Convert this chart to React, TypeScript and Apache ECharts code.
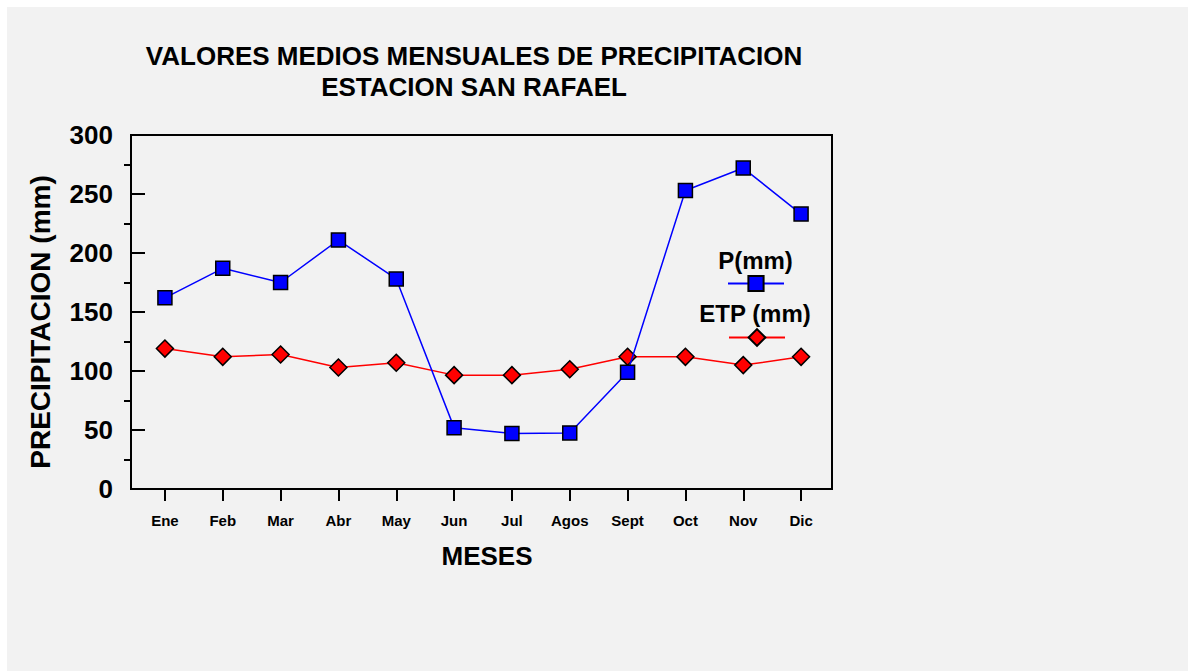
import React, { useEffect, useRef } from "react";
import * as echarts from "echarts";

const months = ["Ene", "Feb", "Mar", "Abr", "May", "Jun", "Jul", "Agos", "Sept", "Oct", "Nov", "Dic"];
const pValues = [162, 187, 175, 211, 178, 52, 47, 47.5, 99, 253, 272, 233];
const etpValues = [119, 112, 114, 103, 107, 96.5, 96.5, 101.5, 112, 112, 105, 112];
const minorTickCats = ["0", "25", "50", "75", "100", "125", "150", "175", "200", "225", "250", "275", "300"];
const titleLines = ["VALORES MEDIOS MENSUALES DE PRECIPITACION", "ESTACION SAN RAFAEL"];
const seriesNames = ["P(mm)", "ETP (mm)"];

const FONT = "'Liberation Sans', Arial, Helvetica, sans-serif";

export default function App() {
  const ref = useRef<HTMLDivElement>(null);
  useEffect(() => {
    if (!ref.current) return;
    const chart = echarts.init(ref.current, null, { renderer: "svg" });
    chart.setOption({
      animation: false,
      backgroundColor: "#f2f2f2",
      textStyle: { fontFamily: FONT, color: "#000" },
      title: {
        text: titleLines.join("\n"),
        left: 462,
        top: 28,
        textAlign: "center",
        textStyle: { fontSize: 26, fontWeight: "bold", color: "#000", lineHeight: 31, fontFamily: FONT },
      },
      grid: { left: 129, top: 128, width: 694, height: 354 },
      xAxis: {
        type: "category",
        data: months,
        boundaryGap: true,
        axisLine: { show: false },
        axisTick: { show: true, inside: false, length: 12, alignWithLabel: true, lineStyle: { color: "#000", width: 2 } },
        axisLabel: { fontSize: 15, fontWeight: "bold", color: "#000", margin: 24, fontFamily: FONT },
        splitLine: { show: false },
      },
      yAxis: [
        {
          type: "value",
          min: 0,
          max: 300,
          interval: 50,
          offset: 5,
          axisLine: { show: false },
          axisTick: { show: true, inside: true, length: 14, lineStyle: { color: "#000", width: 2 } },
          axisLabel: { fontSize: 26, fontWeight: "bold", color: "#000", margin: 18, fontFamily: FONT },
          splitLine: { show: false },
        },
        {
          type: "category",
          data: minorTickCats,
          boundaryGap: false,
          position: "left",
          offset: 5,
          axisLine: { show: false },
          axisTick: {
            show: true,
            inside: false,
            length: 7,
            interval: (i: number) => i % 2 === 1,
            lineStyle: { color: "#000", width: 2 },
          },
          axisLabel: { show: false },
          splitLine: { show: false },
        },
      ],
      legend: [
        {
          data: [seriesNames[0]],
          left: 715,
          top: 262,
          itemWidth: 56,
          itemHeight: 19,
          formatter: () => "",
          selectedMode: false,
        },
        {
          data: [seriesNames[1]],
          left: 716,
          top: 315,
          itemWidth: 56,
          itemHeight: 21,
          formatter: () => "",
          selectedMode: false,
        },
      ],
      graphic: [
        {
          type: "rect",
          shape: { x: 124, y: 128, width: 701, height: 354 },
          style: { fill: "none", stroke: "#000", lineWidth: 2 },
          z: 1,
          silent: true,
        },
        {
          type: "text",
          x: 33,
          y: 315,
          rotation: Math.PI / 2,
          style: {
            text: "PRECIPITACION (mm)",
            font: `bold 28px ${FONT}`,
            fill: "#000",
            textAlign: "center",
            textVerticalAlign: "middle",
          },
        },
        {
          type: "text",
          x: 480,
          y: 549,
          style: {
            text: "MESES",
            font: `bold 26px ${FONT}`,
            fill: "#000",
            textAlign: "center",
            textVerticalAlign: "middle",
          },
        },
        {
          type: "text",
          x: 748.5,
          y: 253,
          style: {
            text: seriesNames[0],
            font: `bold 24px ${FONT}`,
            fill: "#000",
            textAlign: "center",
            textVerticalAlign: "middle",
          },
        },
        {
          type: "text",
          x: 748,
          y: 306,
          style: {
            text: seriesNames[1],
            font: `bold 24px ${FONT}`,
            fill: "#000",
            textAlign: "center",
            textVerticalAlign: "middle",
          },
        },
      ],
      series: [
        {
          name: seriesNames[1],
          type: "line",
          data: etpValues,
          symbol: "diamond",
          symbolSize: [17, 17],
          itemStyle: { color: "#ff0000", borderColor: "#000", borderWidth: 1.5 },
          lineStyle: { color: "#ff0000", width: 1.5 },
          z: 3,
        },
        {
          name: seriesNames[0],
          type: "line",
          data: pValues,
          symbol: "rect",
          symbolSize: 14,
          itemStyle: { color: "#0000ff", borderColor: "#000", borderWidth: 1.5 },
          lineStyle: { color: "#0000ff", width: 1.5 },
          z: 4,
        },
      ],
    });
    return () => chart.dispose();
  }, []);
  return (
    <div
      ref={ref}
      style={{ position: "absolute", left: 7, top: 7, width: 1181, height: 664 }}
    />
  );
}
